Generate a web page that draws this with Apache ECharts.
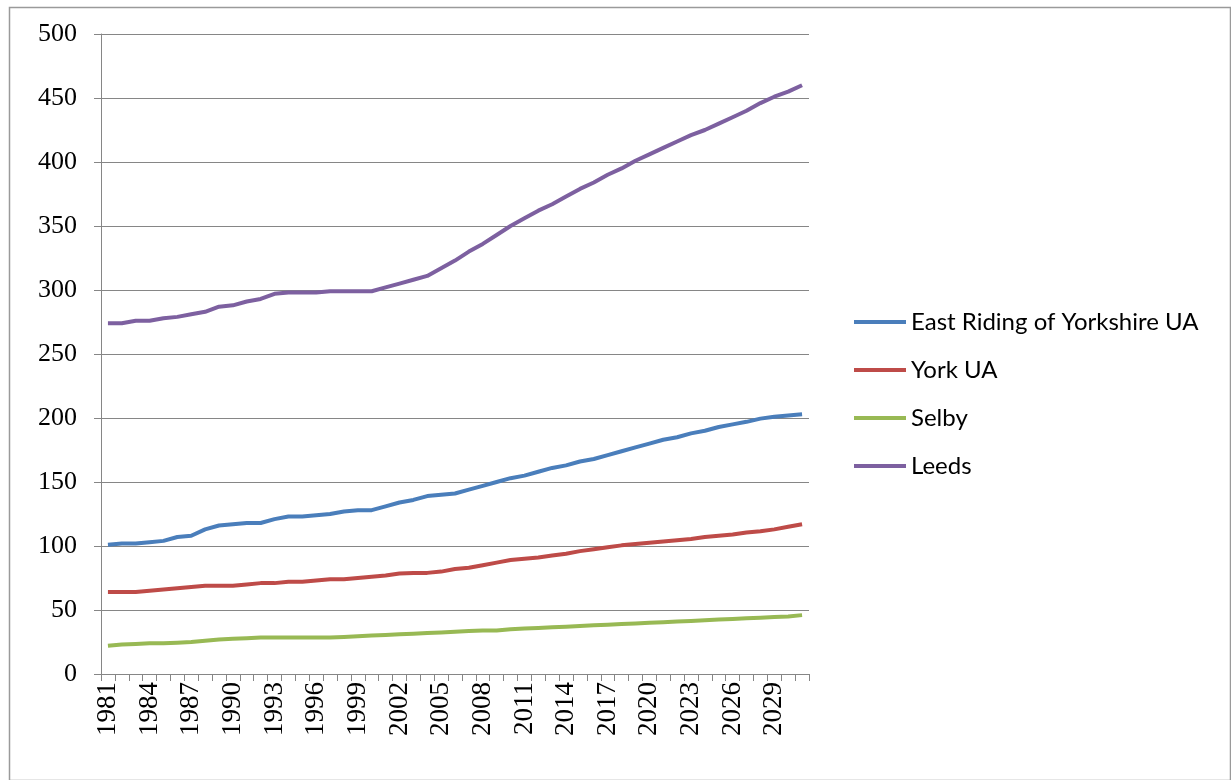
<!DOCTYPE html>
<html>
<head>
<meta charset="utf-8">
<script src="https://cdn.jsdelivr.net/npm/echarts@6/dist/echarts.min.js"></script>
<style>
html,body{margin:0;padding:0;background:#fff;}
#chart{width:1231px;height:780px;}
</style>
</head>
<body>
<div id="chart"></div>
<script>
const years = [];
for (let y = 1981; y <= 2031; y++) years.push(String(y));

const seriesNames = ['East Riding of Yorkshire UA', 'York UA', 'Selby', 'Leeds'];

const eastRiding = [101, 102, 102, 103, 104, 107, 108, 113, 116, 117,
  118, 118, 121, 123, 123, 124, 125, 127, 128, 128,
  131, 134, 136, 139, 140, 141, 144, 147, 150, 153,
  155, 158, 161, 163, 166, 168, 171, 174, 177, 180,
  183, 185, 188, 190, 193, 195, 197, 199.5, 201, 202, 203];

const york = [64, 64, 64, 65, 66, 67, 68, 69, 69, 69,
  70, 71, 71, 72, 72, 73, 74, 74, 75, 76,
  77, 78.5, 79, 79, 80, 82, 83, 85, 87, 89,
  90, 91, 92.5, 94, 96, 97.5, 99, 100.5, 101.5, 102.5,
  103.5, 104.5, 105.5, 107, 108, 109, 110.5, 111.5, 113, 115, 117];

const selby = [22, 23, 23.5, 24, 24, 24.5, 25, 26, 27, 27.5,
  28, 28.5, 28.5, 28.5, 28.5, 28.5, 28.5, 29, 29.5, 30,
  30.5, 31, 31.5, 32, 32.5, 33, 33.5, 34, 34, 35,
  35.5, 36, 36.5, 37, 37.5, 38, 38.5, 39, 39.5, 40,
  40.5, 41, 41.5, 42, 42.5, 43, 43.5, 44, 44.5, 45, 46];

const leeds = [274, 274, 276, 276, 278, 279, 281, 283, 287, 288,
  291, 293, 297, 298, 298, 298, 299, 299, 299, 299,
  302, 305, 308, 311, 317, 323, 330, 336, 343, 350,
  356, 362, 367, 373, 379, 384, 390, 395, 401, 406,
  411, 416, 421, 425, 430, 435, 440, 446, 451, 455, 460];

const yTicks = { min: 0, max: 500, interval: 50 };
const colors = ['#4A7EBB', '#BE4B48', '#98B954', '#7D60A0'];

const chart = echarts.init(document.getElementById('chart'));
const dataSets = [eastRiding, york, selby, leeds];

chart.setOption({
  animation: false,
  backgroundColor: '#ffffff',
  color: colors,
  graphic: [{
    type: 'rect',
    left: 7, top: 5,
    shape: { width: 1221, height: 773 },
    style: { fill: 'none', stroke: '#9a9a9a', lineWidth: 1.5 },
    silent: true
  }],
  grid: { left: 101, top: 34, right: 422, bottom: 106, containLabel: false },
  legend: {
    orient: 'vertical',
    left: 849,
    top: 305,
    icon: 'rect',
    itemWidth: 52,
    itemHeight: 4,
    itemGap: 24,
    textStyle: { fontFamily: 'Lato', fontSize: 24, color: '#000' },
    data: seriesNames
  },
  xAxis: {
    type: 'category',
    data: years,
    boundaryGap: true,
    axisLine: { show: true, lineStyle: { color: '#868686', width: 1 } },
    axisTick: { show: true, interval: 0, length: 7, lineStyle: { color: '#868686' } },
    axisLabel: {
      interval: 2,
      rotate: 90,
      margin: 8,
      fontFamily: 'Liberation Serif',
      fontSize: 27,
      color: '#000'
    },
    splitLine: { show: false }
  },
  yAxis: {
    type: 'value',
    min: yTicks.min,
    max: yTicks.max,
    interval: yTicks.interval,
    axisLine: { show: true, lineStyle: { color: '#868686', width: 1 } },
    axisTick: { show: true, length: 7, lineStyle: { color: '#868686' } },
    axisLabel: {
      margin: 24,
      fontFamily: 'Liberation Serif',
      fontSize: 26,
      color: '#000'
    },
    splitLine: { show: true, lineStyle: { color: '#868686', width: 1 } }
  },
  series: seriesNames.map((name, i) => ({
    name: name,
    type: 'line',
    data: dataSets[i],
    showSymbol: false,
    symbol: 'none',
    lineStyle: { width: 4, color: colors[i] },
    itemStyle: { color: colors[i] }
  }))
});
</script>
</body>
</html>
